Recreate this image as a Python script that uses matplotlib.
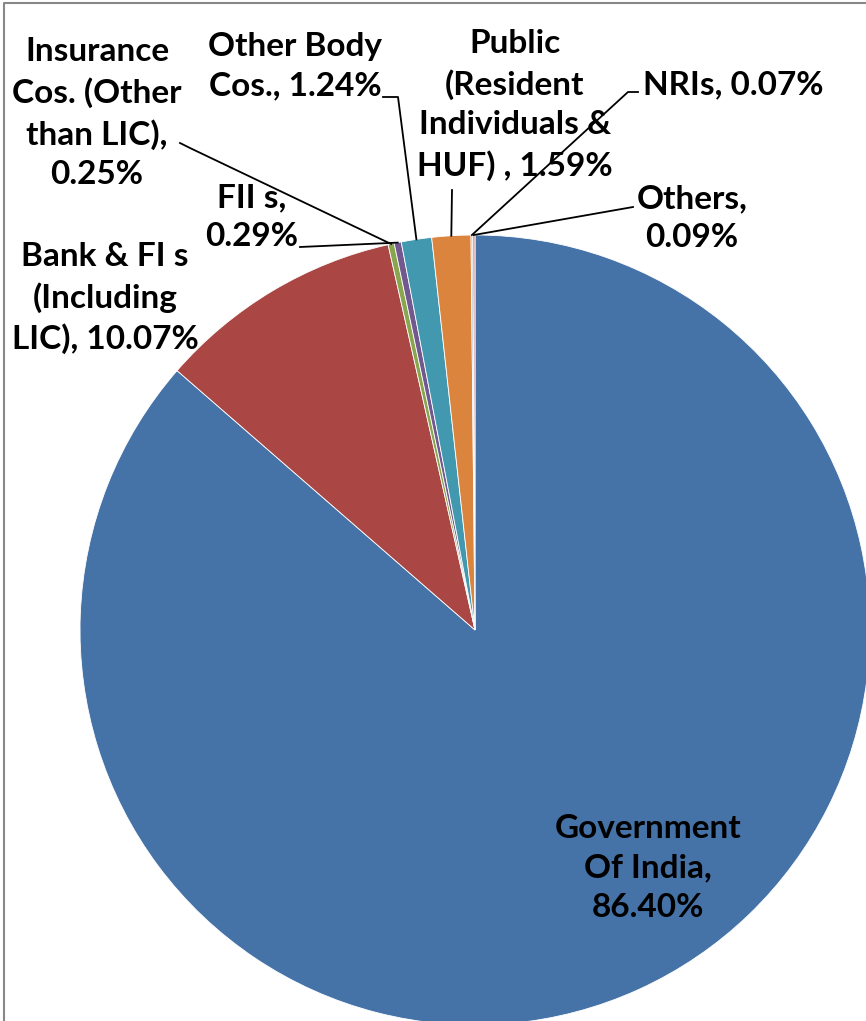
import numpy as np
import matplotlib
matplotlib.use('Agg')
import matplotlib.pyplot as plt

# shareholding pattern (%)
labels = ['Government\nOf India,\n86.40%', 'Bank & FI s\n(Including\nLIC), 10.07%',
          'Insurance\nCos. (Other\nthan LIC),\n0.25%', 'FII s,\n0.29%',
          'Other Body\nCos., 1.24%', 'Public\n(Resident\nIndividuals &\nHUF) , 1.59%',
          'NRIs, 0.07%', 'Others,\n0.09%']
values = [86.40, 10.07, 0.25, 0.29, 1.24, 1.59, 0.07, 0.09]
colors = ['#4572A7', '#AA4643', '#89A54E', '#71588F', '#4198AF', '#DB843D', '#93A9CF', '#D19392']

W, H = 866, 1021
fig = plt.figure(figsize=(W / 100, H / 100), dpi=100)
ax = fig.add_axes([0, 0, 1, 1])

cx, cy, r = 475, H - 630, 395
wedges, _ = ax.pie(values, colors=colors, startangle=90, counterclock=False,
                   center=(cx, cy), radius=r,
                   wedgeprops=dict(edgecolor='white', linewidth=0.6))
ax.set_xlim(0, W)
ax.set_ylim(0, H)
ax.set_aspect('equal')
ax.axis('off')

# label placement (pixel coords from top-left), leader elbow (or None)
lab_pos = [(648, 868), (105, 298), (97, 113), (252, 217), (295, 66), (515, 105), (733, 85), (692, 218)]
elbow = [None, None, [(180, 143), (190, 148)], [(300, 247)], [(383, 97), (398, 97)],
         [(452, 190)], [(638, 92), (628, 92)], [(633, 207)]]

for i, (w, txt) in enumerate(zip(wedges, labels)):
    x, y = lab_pos[i]
    ax.text(x, H - y, txt, ha='center', va='center', fontsize=24, fontweight='bold',
            family='Lato', linespacing=1.42, color='black')
    if elbow[i] is not None:
        ang = np.deg2rad((w.theta1 + w.theta2) / 2)
        px, py = cx + r * np.cos(ang), cy + r * np.sin(ang)
        xs = [p[0] for p in elbow[i]] + [px]
        ys = [H - p[1] for p in elbow[i]] + [py]
        ax.plot(xs, ys, color='black', lw=1.3)

# chart border (cropped)
ax.plot([4, 4, W + 5], [-5, H - 3, H - 3], color='#888888', lw=1.5, clip_on=False)

fig.savefig('out.png', dpi=100)
